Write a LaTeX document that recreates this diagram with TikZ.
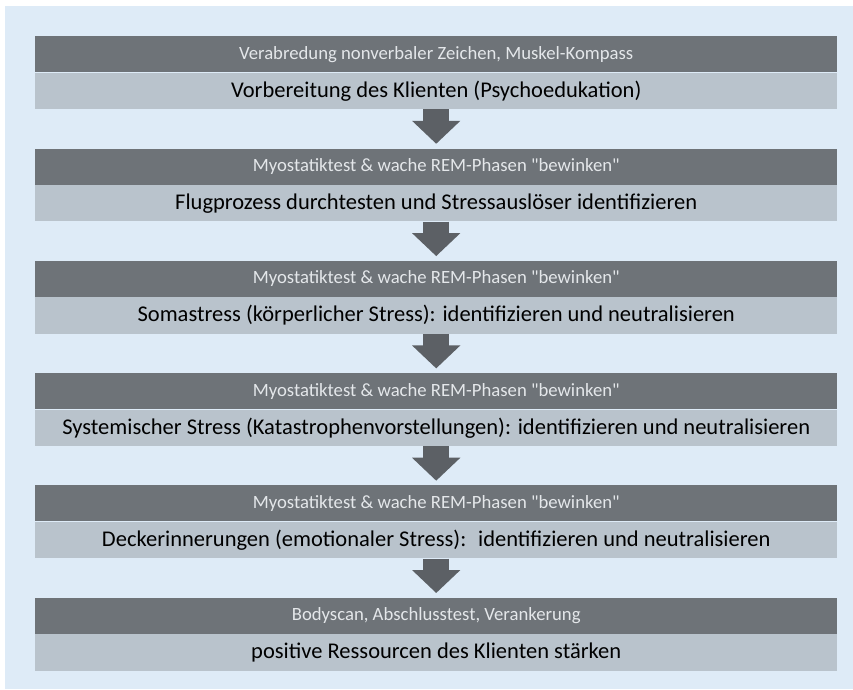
\documentclass[tikz,border=0pt]{standalone}
\usepackage{fontspec}
\setmainfont{Carlito}
\usepackage{color}
\definecolor{mybgblue}{RGB}{222,235,247}
\definecolor{mydarkgray}{RGB}{110,115,120}
\definecolor{mylightgray}{RGB}{185,195,204}
\definecolor{myarrowgray}{RGB}{92,96,101}
\definecolor{mytoptext}{RGB}{228,231,234}
\usepackage{tikz}
\usetikzlibrary{arrows.meta,positioning}
\tikzset{
    toprect/.style={
        rectangle, fill=mydarkgray, text=mytoptext,
        minimum width=802pt, minimum height=36pt,
        inner sep=0pt, font=\fontsize{18.7}{22}\selectfont
    },
    mainrect/.style={
        rectangle, fill=mylightgray, text=black,
        minimum width=802pt, minimum height=36.5pt,
        inner sep=0pt, font=\fontsize{22.5}{26}\selectfont
    }
}

\begin{document}
\begin{tikzpicture}[
      x=1pt, y=1pt,
  blockarrow/.style={
    myarrowgray,
    line width=26pt,
    -{Triangle[width=47pt,length=23pt]},
    shorten >=4.5pt
    }
      ]

\useasboundingbox (0,0) rectangle (853,-689);
\fill[mybgblue] (5,-6) rectangle (853,-689);

\node[toprect, anchor=north west] at (35,-36) (d1) {Verabredung nonverbaler Zeichen, Muskel-Kompass};
\node[mainrect] [below=0pt of d1] (l1) {Vorbereitung des Klienten (Psychoedukation)};

\node[toprect] [below=39pt of l1] (d2) {Myostatiktest \& wache REM-Phasen \textquotedbl bewinken\textquotedbl};
\node[mainrect] [below=0pt of d2] (l2) {Flugprozess durchtesten und Stressauslöser identifizieren};

\node[toprect] [below=39pt of l2] (d3) {Myostatiktest \& wache REM-Phasen \textquotedbl bewinken\textquotedbl};
\node[mainrect] [below=0pt of d3] (l3) {Somastress (körperlicher Stress): identifizieren und neutralisieren};

\node[toprect] [below=39pt of l3] (d4) {Myostatiktest \& wache REM-Phasen \textquotedbl bewinken\textquotedbl};
\node[mainrect] [below=0pt of d4] (l4) {Systemischer Stress (Katastrophenvorstellungen): identifizieren und neutralisieren};

\node[toprect] [below=39pt of l4] (d5) {Myostatiktest \& wache REM-Phasen \textquotedbl bewinken\textquotedbl};
\node[mainrect] [below=0pt of d5] (l5) {Deckerinnerungen (emotionaler Stress): \ identifizieren und neutralisieren};

\node[toprect] [below=39pt of l5] (d6) {Bodyscan, Abschlusstest, Verankerung};
\node[mainrect] [below=0pt of d6] (l6) {positive Ressourcen des Klienten stärken};

\draw[blockarrow] (l1) -- (d2);
\draw[blockarrow] (l2) -- (d3);
\draw[blockarrow] (l3) -- (d4);
\draw[blockarrow] (l4) -- (d5);
\draw[blockarrow] (l5) -- (d6);

\end{tikzpicture}
\end{document}
